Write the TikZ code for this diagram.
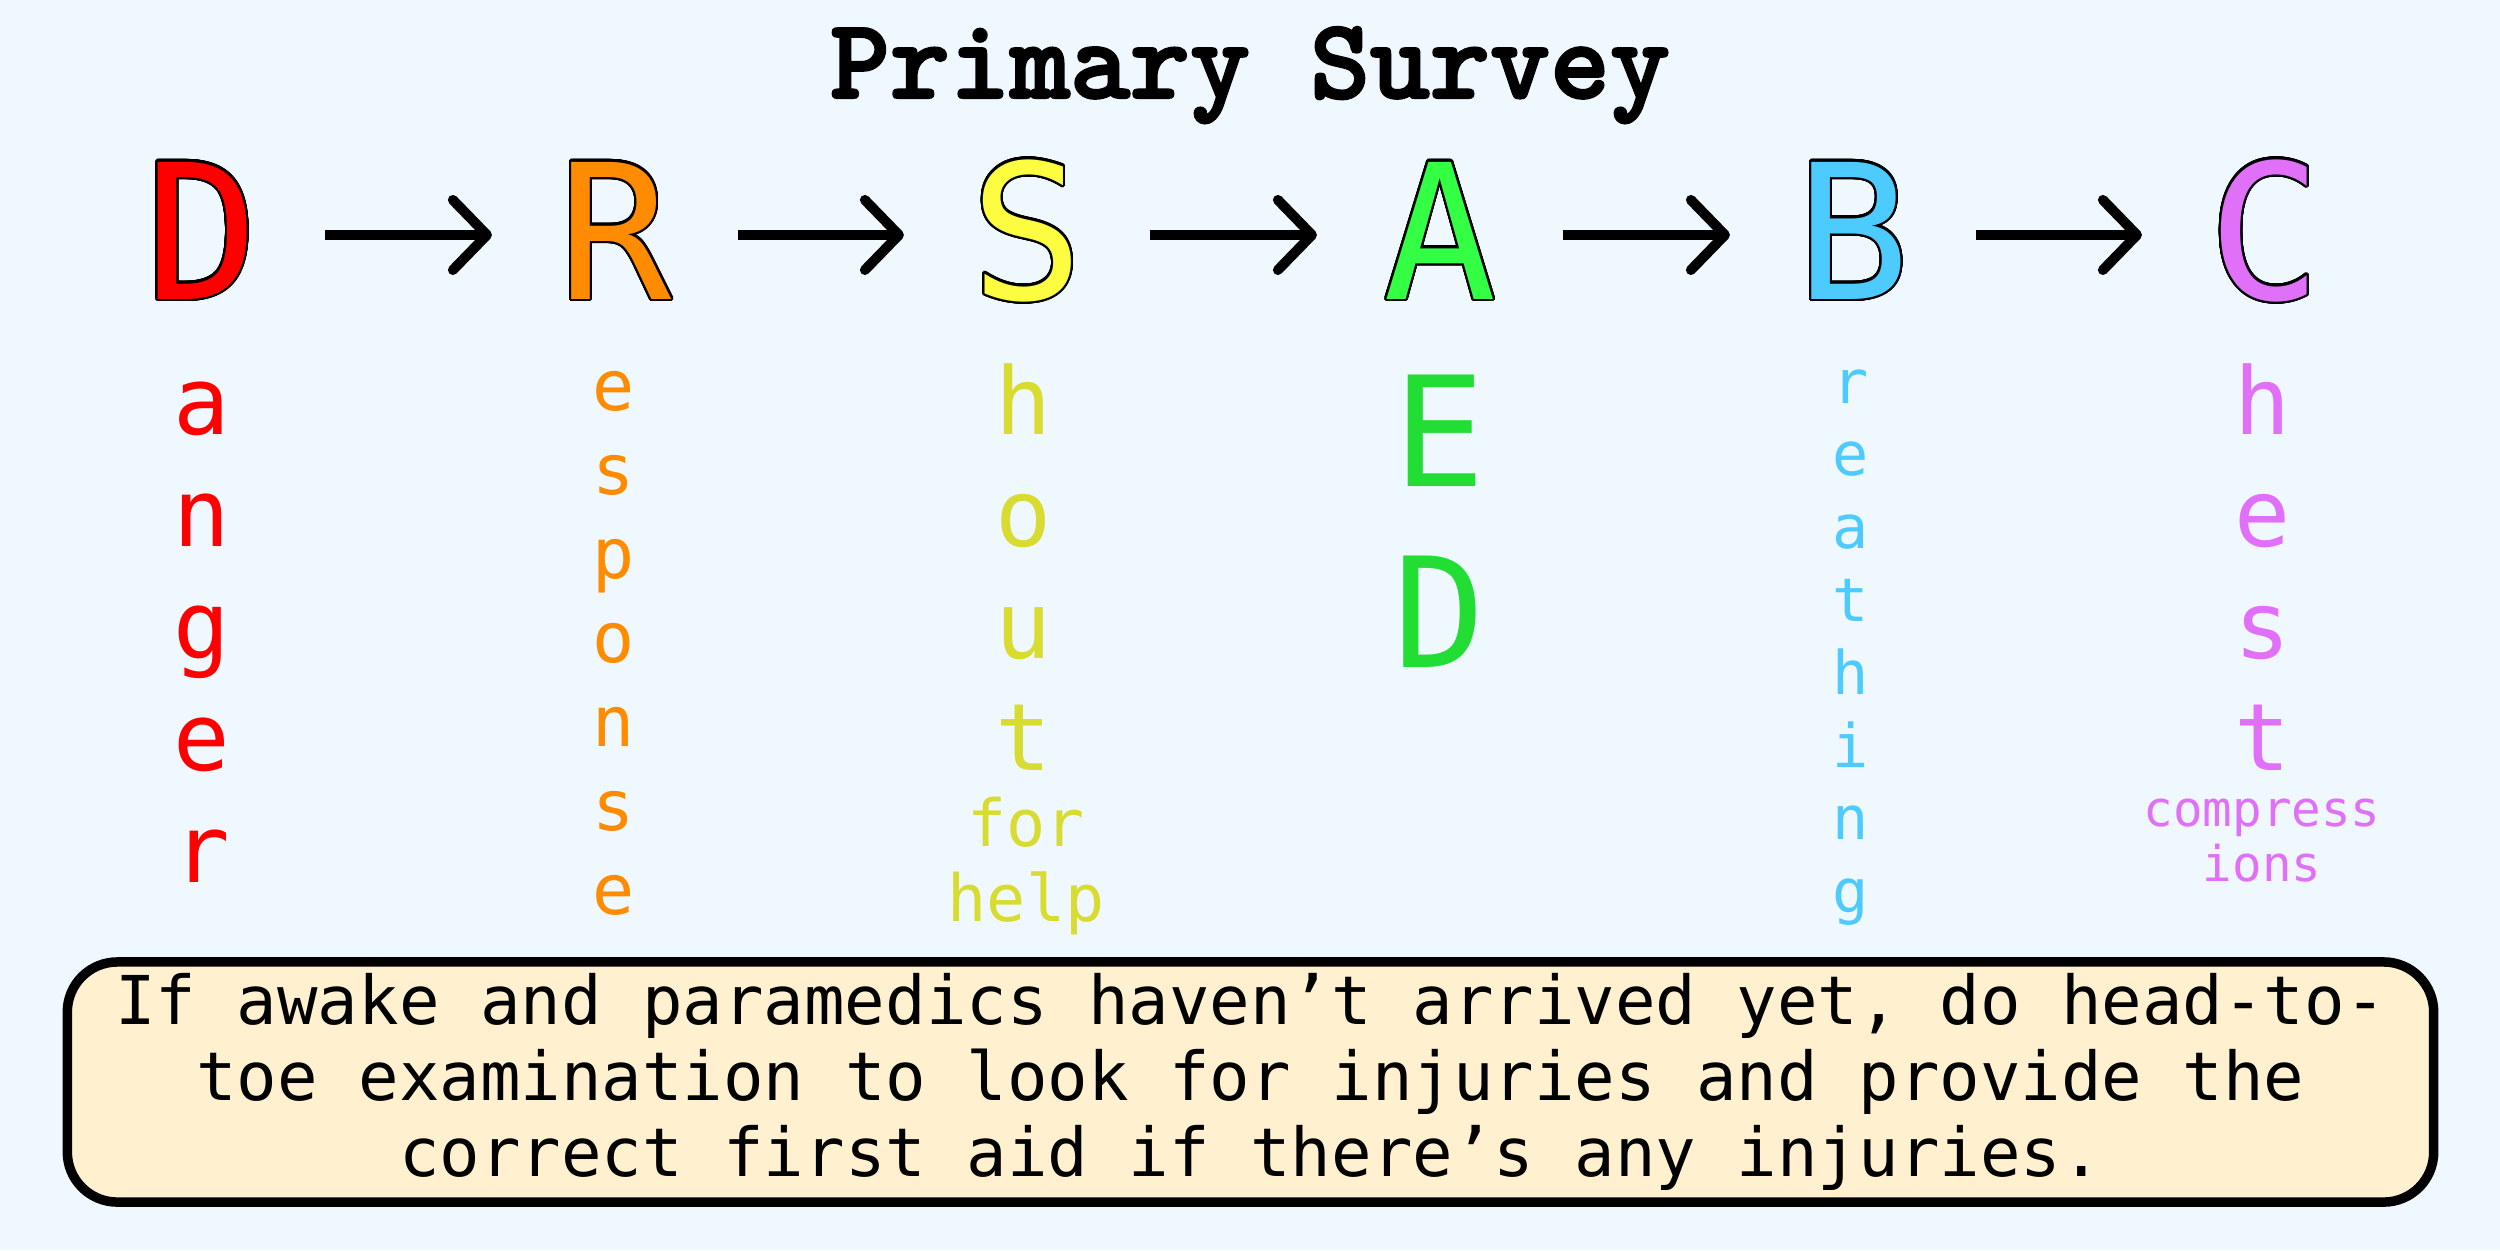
\documentclass[tikz,border=0pt]{standalone}
\usepackage{fontspec}
\usepackage{contour}
\usetikzlibrary{arrows.meta}
\newfontfamily\dmono{DejaVu Sans Mono}
\newfontfamily\titlefont[FakeBold=2]{lmmonolt10-bold.otf}
\definecolor{bg}{HTML}{F0F8FF}
\definecolor{boxfill}{HTML}{FFF0CF}
\definecolor{cD}{HTML}{FF0000}
\definecolor{cR}{HTML}{FF8C00}
\definecolor{cS}{HTML}{FCFC40}
\definecolor{cSt}{HTML}{D8DC30}
\definecolor{cA}{HTML}{33FF44}
\definecolor{cAt}{HTML}{22DD33}
\definecolor{cB}{HTML}{4DCBFF}
\definecolor{cC}{HTML}{E070F8}
\contourlength{0.65pt}
\contournumber{32}
\tikzset{
  bigl/.style={anchor=base, inner sep=0pt, outer sep=0pt, minimum width=2.46cm,
    text height=1.28cm, text depth=0pt, font=\dmono\fontsize{53.5}{53.5}\selectfont},
  flow/.style={line width=2.85pt, -{Straight Barb[length=0.34cm,width=0.7cm,round]}},
  sub/.style={anchor=base, inner sep=0pt, outer sep=0pt},
  notebox/.style={draw=black, fill=boxfill, line width=2.7pt, rounded corners=0.5cm,
    minimum width=23.65cm, minimum height=2.4cm, inner sep=0pt, align=center,
    font=\dmono\fontsize{19.15}{21.6}\selectfont},
}
\begin{document}
\begin{tikzpicture}[x=0.01cm,y=-0.01cm]
\fill[bg] (0,0) rectangle (2500,1250);
\useasboundingbox (0,0) rectangle (2500,1250);

\node[anchor=base, inner sep=0pt, font=\titlefont\fontsize{32.5}{32.5}\selectfont] (title) at (1250,98) {Primary Survey};

\node[bigl] (D) at (202,299) {\contour{black}{\color{cD}D}};
\node[bigl] (R) at (615,299) {\contour{black}{\color{cR}R}};
\node[bigl] (S) at (1027,299) {\contour{black}{\color{cS}S}};
\node[bigl] (A) at (1440,299) {\contour{black}{\color{cA}A}};
\node[bigl] (B) at (1853,299) {\contour{black}{\color{cB}B}};
\node[bigl] (C) at (2265,299) {\contour{black}{\color{cC}C}};

\draw[flow] (D) -- (R);
\draw[flow] (R) -- (S);
\draw[flow] (S) -- (A);
\draw[flow] (A) -- (B);
\draw[flow] (B) -- (C);

\foreach \ch [count=\i from 0] in {a,n,g,e,r}
  \node[sub, font=\dmono\fontsize{26.7}{26.7}\selectfont, text=cD] (d\i) at (202,434+112*\i) {\ch};
\foreach \ch [count=\i from 0] in {e,s,p,o,n,s,e}
  \node[sub, font=\dmono\fontsize{19.9}{19.9}\selectfont, text=cR] (r\i) at (614,410.8+84*\i) {\ch};
\foreach \ch [count=\i from 0] in {h,o,u,t}
  \node[sub, font=\dmono\fontsize{26.5}{26.5}\selectfont, text=cSt] (s\i) at (1024,434+112*\i) {\ch};
\node[sub, font=\dmono\fontsize{18.5}{18.5}\selectfont, text=cSt] (sfor) at (1026,846) {for};
\node[sub, font=\dmono\fontsize{18.5}{18.5}\selectfont, text=cSt] (shelp) at (1026,921.7) {help};
\node[sub, font=\dmono\fontsize{43.5}{43.5}\selectfont, text=cAt] (aE) at (1440,486.6) {E};
\node[sub, font=\dmono\fontsize{43.5}{43.5}\selectfont, text=cAt] (aD) at (1440,667) {D};
\foreach \ch [count=\i from 0] in {r,e,a,t,h,i,n,g}
  \node[sub, font=\dmono\fontsize{17.1}{17.1}\selectfont, text=cB] (b\i) at (1851,403+72.8*\i) {\ch};
\foreach \ch [count=\i from 0] in {h,e,s,t}
  \node[sub, font=\dmono\fontsize{26.5}{26.5}\selectfont, text=cC] (c\i) at (2263,434+112*\i) {\ch};
\node[sub, font=\dmono\fontsize{14}{14}\selectfont, text=cC] (ccomp) at (2262,826) {compress};
\node[sub, font=\dmono\fontsize{14}{14}\selectfont, text=cC] (cions) at (2262,881.5) {ions};

\node[notebox] (note) at (1250.5,1082) {If awake and paramedics haven’t arrived yet, do head-to-\\toe examination to look for injuries and provide the\\correct first aid if there’s any injuries.};
\end{tikzpicture}
\end{document}
